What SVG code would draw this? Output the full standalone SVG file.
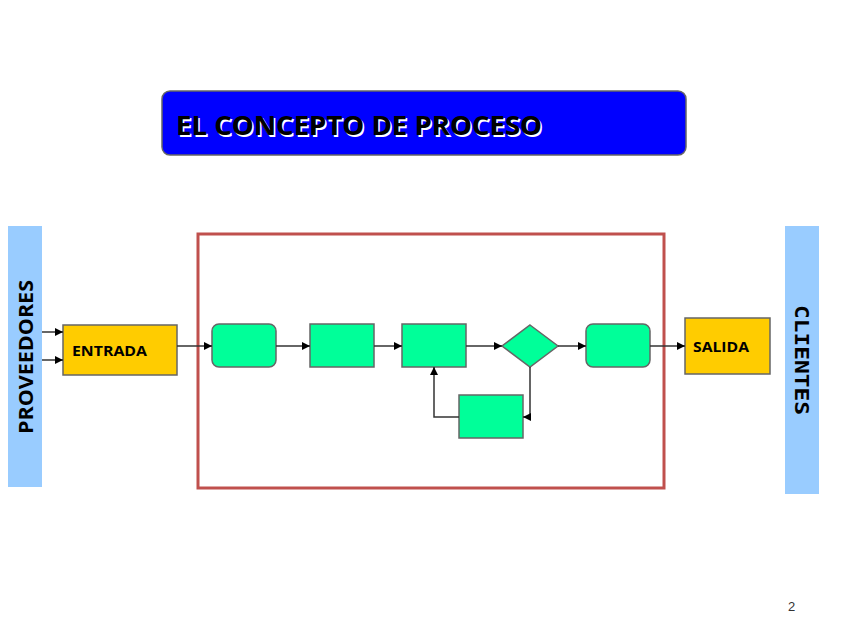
<svg xmlns="http://www.w3.org/2000/svg" width="848" height="636" viewBox="0 0 848 636">
<style>
.proc{fill:#00FF99;stroke:#666;stroke-width:1.5}
.io{fill:#FFCC00;stroke:#666;stroke-width:1.5}
.bar{fill:#99CCFF}
.conn{fill:none;stroke:#333;stroke-width:1.5}
.lbl{font-family:"Open Sans","Liberation Sans",sans-serif;font-weight:bold;fill:#000}
</style>
<defs>
<marker id="ah" viewBox="0 0 10 10" refX="10" refY="5" markerWidth="8" markerHeight="8" markerUnits="userSpaceOnUse" orient="auto">
<path d="M0,0 L10,5 L0,10 z" fill="#000"/>
</marker>
</defs>
<rect width="848" height="636" fill="#fff"/>
<g id="title">
<rect x="162" y="91" width="524" height="64" rx="8" fill="#0000FF" stroke="#666" stroke-width="1.5"/>
<text x="177.5" y="136.5" class="lbl" font-size="26" style="fill:#fff" textLength="366" lengthAdjust="spacingAndGlyphs">EL CONCEPTO DE PROCESO</text>
<text x="176" y="135" class="lbl" font-size="26" textLength="366" lengthAdjust="spacingAndGlyphs">EL CONCEPTO DE PROCESO</text>
</g>
<g id="proveedores">
<rect x="8" y="226" width="34" height="261" class="bar"/>
<text transform="translate(33,357) rotate(-90)" text-anchor="middle" class="lbl" font-size="20" textLength="154" lengthAdjust="spacingAndGlyphs">PROVEEDORES</text>
</g>
<g id="clientes">
<rect x="785" y="226" width="34" height="268" class="bar"/>
<text transform="translate(795,360) rotate(90)" text-anchor="middle" font-family="'DejaVu Sans Mono','Liberation Mono',monospace" font-weight="bold" font-size="20" textLength="110" lengthAdjust="spacingAndGlyphs">CLIENTES</text>
</g>
<g id="proceso">
<rect x="198" y="234" width="466" height="254" fill="none" stroke="#C0504D" stroke-width="3"/>
</g>
<g id="entrada">
<rect x="63" y="325" width="114" height="50" class="io"/>
<text x="72" y="356" class="lbl" font-size="15" textLength="75" lengthAdjust="spacingAndGlyphs">ENTRADA</text>
</g>
<g id="salida">
<rect x="685" y="318" width="85" height="56" class="io"/>
<text x="693" y="352" class="lbl" font-size="15" textLength="56" lengthAdjust="spacingAndGlyphs">SALIDA</text>
</g>
<g id="n1"><rect x="212" y="324" width="64" height="43" rx="7" class="proc"/></g>
<g id="n2"><rect x="310" y="324" width="64" height="43" class="proc"/></g>
<g id="n3"><rect x="402" y="324" width="64" height="43" class="proc"/></g>
<g id="n4"><path d="M530,325 L558,346 L530,367 L502,346 Z" class="proc"/></g>
<g id="n5"><rect x="586" y="324" width="64" height="43" rx="7" class="proc"/></g>
<g id="n6"><rect x="459" y="395" width="64" height="43" class="proc"/></g>
<g id="connectors" class="conn" marker-end="url(#ah)">
<line x1="42" y1="332" x2="63" y2="332"/>
<line x1="42" y1="360" x2="63" y2="360"/>
<line x1="177" y1="346" x2="212" y2="346"/>
<line x1="276" y1="346" x2="310" y2="346"/>
<line x1="374" y1="346" x2="402" y2="346"/>
<line x1="466" y1="346" x2="502" y2="346"/>
<line x1="558" y1="346" x2="586" y2="346"/>
<line x1="650" y1="346" x2="685" y2="346"/>
<polyline points="530,367 530,417 523,417"/>
<polyline points="459,417 434,417 434,367"/>
</g>
<text x="788" y="611" font-family="'Liberation Sans',sans-serif" font-size="13" fill="#333">2</text>
</svg>
